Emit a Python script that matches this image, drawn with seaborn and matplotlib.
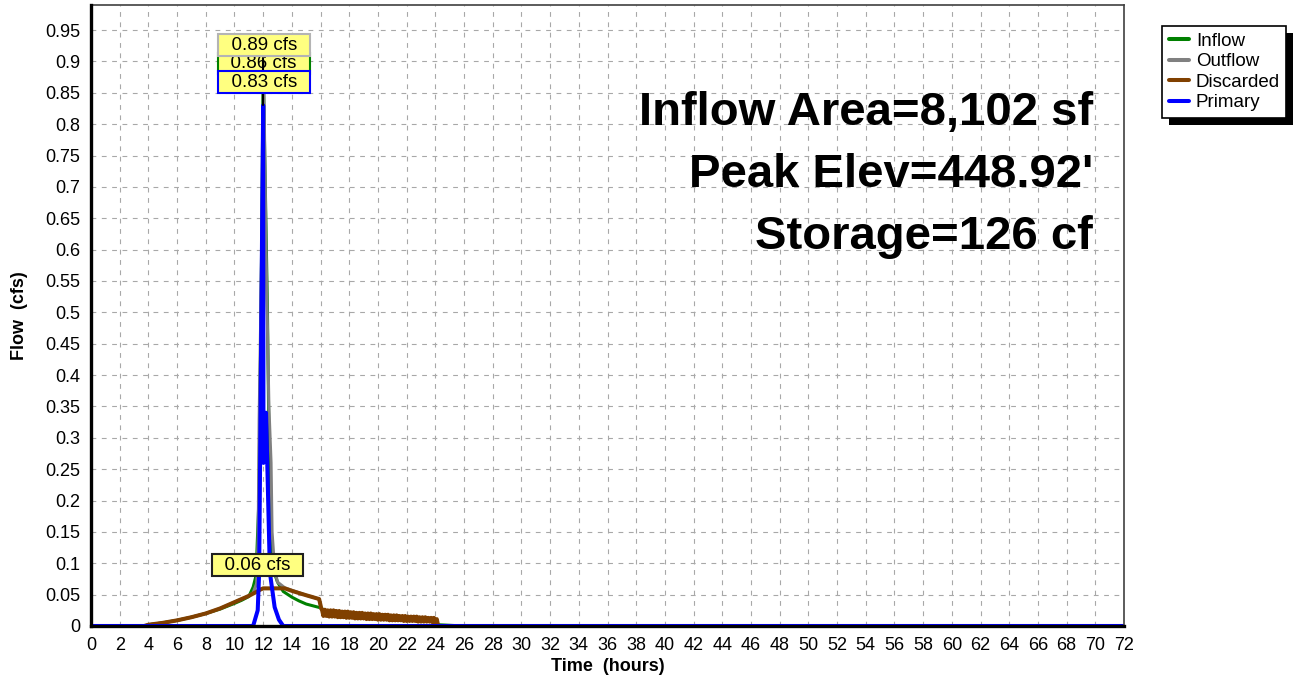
import matplotlib
matplotlib.use("Agg")
import matplotlib.pyplot as plt
from matplotlib.lines import Line2D
from matplotlib.patches import Rectangle
from matplotlib.ticker import MultipleLocator
import seaborn as sns

# ---- hydrograph data (time in hours, flow in cfs) ----
inflow_t = [0, 3.7, 4, 5, 6, 7, 8, 9, 10, 10.5, 11, 11.3, 11.5, 11.7, 11.85, 12.0,
            12.15, 12.3, 12.4, 12.5, 12.7, 13.0, 13.4, 14, 14.5, 15, 15.5, 16, 16.5,
            18, 20, 22, 24, 24.2, 26, 72]
inflow_q = [0, 0, 0.002, 0.005, 0.009, 0.014, 0.02, 0.027, 0.036, 0.041, 0.047, 0.062,
            0.08, 0.2, 0.5, 0.89, 0.7, 0.5, 0.3, 0.15, 0.09, 0.07, 0.055, 0.046, 0.04,
            0.035, 0.032, 0.029, 0.022, 0.018, 0.015, 0.012, 0.01, 0.002, 0, 0]

outflow_t = [0, 3.7, 4, 5, 6, 7, 8, 9, 10, 10.5, 11, 11.3, 11.55, 11.65, 11.72, 11.9,
             12.05, 12.2, 12.4, 12.55, 12.62, 12.8, 13.0, 13.5, 14, 15, 15.9, 16.05,
             17, 20, 24, 24.2, 72]
outflow_q = [0, 0, 0.002, 0.005, 0.009, 0.014, 0.02, 0.028, 0.038, 0.043, 0.048, 0.053,
             0.068, 0.14, 0.33, 0.6, 0.86, 0.6, 0.35, 0.26, 0.15, 0.09, 0.07, 0.061,
             0.057, 0.049, 0.043, 0.026, 0.02, 0.015, 0.01, 0, 0]

# discarded flow: smooth rise, then an oscillating tail sampled every 0.1 h (16.1-24.0 h)
discarded_head_t = [0, 3.7, 4, 5, 6, 7, 8, 9, 10, 10.5, 11, 11.5, 11.8, 12.0, 13.5, 14,
                    15, 15.9, 16.05]
discarded_head_q = [0, 0, 0.002, 0.005, 0.009, 0.014, 0.02, 0.028, 0.038, 0.043, 0.048,
                    0.054, 0.058, 0.06, 0.06, 0.056, 0.049, 0.043, 0.028]
discarded_tail_q = [0.026, 0.016, 0.026, 0.016, 0.025, 0.015, 0.025, 0.015, 0.025, 0.015,
                    0.024, 0.014, 0.024, 0.014, 0.023, 0.014, 0.023, 0.013, 0.023, 0.013,
                    0.022, 0.013, 0.022, 0.012, 0.021, 0.012, 0.021, 0.012, 0.021, 0.012,
                    0.020, 0.011, 0.020, 0.011, 0.020, 0.011, 0.019, 0.011, 0.019, 0.010,
                    0.019, 0.010, 0.018, 0.010, 0.018, 0.010, 0.018, 0.009, 0.017, 0.009,
                    0.017, 0.009, 0.017, 0.009, 0.016, 0.009, 0.016, 0.008, 0.016, 0.008,
                    0.015, 0.008, 0.015, 0.008, 0.015, 0.008, 0.015, 0.007, 0.014, 0.007,
                    0.014, 0.007, 0.014, 0.007, 0.013, 0.007, 0.013, 0.006, 0.013, 0.006]
discarded_tail_t = [round(16.1 + 0.1 * i, 1) for i in range(len(discarded_tail_q))]
discarded_end_t = [24.1, 24.2, 72]
discarded_end_q = [0.011, 0, 0]
discarded_t = discarded_head_t + discarded_tail_t + discarded_end_t
discarded_q = discarded_head_q + discarded_tail_q + discarded_end_q

primary_t = [0, 11.3, 11.62, 11.72, 12.0, 12.02, 12.2, 12.47, 12.8, 13.1, 13.4, 72]
primary_q = [0, 0, 0.025, 0.085, 0.83, 0.26, 0.34, 0.085, 0.03, 0.01, 0, 0]

series_names = ["Inflow", "Outflow", "Discarded", "Primary"]
series_colors = ["#008000", "#808080", "#804000", "#0000ff"]

x_ticks = list(range(0, 73, 2))
x_tick_labels = [str(v) for v in x_ticks]
y_ticks = [0, 0.05, 0.1, 0.15, 0.2, 0.25, 0.3, 0.35, 0.4, 0.45, 0.5, 0.55, 0.6, 0.65,
           0.7, 0.75, 0.8, 0.85, 0.9, 0.95]
y_tick_labels = ["0", "0.05", "0.1", "0.15", "0.2", "0.25", "0.3", "0.35", "0.4", "0.45",
                 "0.5", "0.55", "0.6", "0.65", "0.7", "0.75", "0.8", "0.85", "0.9", "0.95"]

summary_lines = ["Inflow Area=8,102 sf", "Peak Elev=448.92'", "Storage=126 cf"]

# ---- styling ----
sns.set_style("white")
plt.rcParams["font.family"] = ["Liberation Sans", "DejaVu Sans"]
plt.rcParams["text.color"] = "black"
plt.rcParams["axes.labelcolor"] = "black"
plt.rcParams["xtick.color"] = "black"
plt.rcParams["ytick.color"] = "black"

W, H = 1296, 682
fig = plt.figure(figsize=(W / 100, H / 100), dpi=100)
ax = fig.add_axes([91 / W, 56 / H, 1033 / W, 621 / H])

data = [(inflow_t, inflow_q, 2.2), (outflow_t, outflow_q, 2.2),
        (discarded_t, discarded_q, 2.9), (primary_t, primary_q, 2.9)]
for (t, q, lw), color in zip(data, series_colors):
    sns.lineplot(x=t, y=q, ax=ax, color=color, linewidth=lw, estimator=None,
                 sort=False, legend=False)

ax.set_xlim(0, 72)
ax.set_ylim(0, 0.99)
ax.set_xticks(x_ticks)
ax.set_xticklabels(x_tick_labels)
ax.set_yticks(y_ticks)
ax.set_yticklabels(y_tick_labels)
ax.xaxis.set_minor_locator(MultipleLocator(0.5))
ax.yaxis.set_minor_locator(MultipleLocator(0.01))
ax.tick_params(which="major", direction="out", length=6, width=0.8, color="#303030",
               labelsize=13, pad=2, labelcolor="black")
ax.tick_params(which="minor", direction="out", length=3, width=0.8, color="#303030")

ax.grid(True, which="major", color="#a8a8a8", linestyle=(0, (4.3, 5)), linewidth=0.8)
ax.set_axisbelow(True)

for side in ["left", "bottom"]:
    ax.spines[side].set_linewidth(2.4)
    ax.spines[side].set_color("black")
    ax.spines[side].set_zorder(3)
for side in ["top", "right"]:
    ax.spines[side].set_linewidth(1.2)
    ax.spines[side].set_color("#404040")

ax.set_xlabel("Time  (hours)", fontsize=13, fontweight="bold", labelpad=3)
ax.set_ylabel("Flow  (cfs)", fontsize=13, fontweight="bold", labelpad=12)

# summary block, right aligned
for line, yb in zip(summary_lines, [0.8068, 0.7077, 0.6063]):
    ax.text(0.970, yb, line, transform=ax.transAxes, ha="right", va="baseline",
            fontsize=34, fontweight="bold", color="black", zorder=4)

# peak value tags
def tag(x, y, value, edge, z):
    ax.text(x, y, f"  {value:.2f} cfs  ", ha="center", va="center", fontsize=13.5,
            zorder=z, clip_on=False,
            bbox=dict(boxstyle="square,pad=0.12", facecolor="#ffff80",
                      edgecolor=edge, linewidth=1.5))

tag(12.05, 0.897, max(outflow_q), "#008000", 5)
ax.plot([primary_t[4], primary_t[4]], [max(primary_q), 0.905], color="black",
        linewidth=1.5, zorder=5.5)
tag(12.05, 0.926, max(inflow_q), "#b4b4b4", 6)
tag(12.05, 0.867, max(primary_q), "#0000ff", 7)
tag(11.6, 0.097, max(discarded_q), "#202020", 7)

# legend with a solid drop shadow
handles = [Line2D([], [], color=c, linewidth=2.9) for c in series_colors]
leg = fig.legend(handles, series_names, loc="upper left",
                 bbox_to_anchor=(1162 / W, 1 - 26 / H), bbox_transform=fig.transFigure,
                 frameon=True, fancybox=False, edgecolor="black", framealpha=1,
                 fontsize=13.5, handlelength=1.1, handletextpad=0.35, borderpad=0.35,
                 labelspacing=0.18, borderaxespad=0)
leg.get_frame().set_linewidth(1.2)
fig.canvas.draw()
bb = leg.get_window_extent()
fig.add_artist(Rectangle(((bb.x0 + 7) / W, (bb.y0 - 7) / H), bb.width / W, bb.height / H,
                         transform=fig.transFigure, facecolor="black", edgecolor="none",
                         zorder=4))

fig.savefig("out.png", dpi=100)
